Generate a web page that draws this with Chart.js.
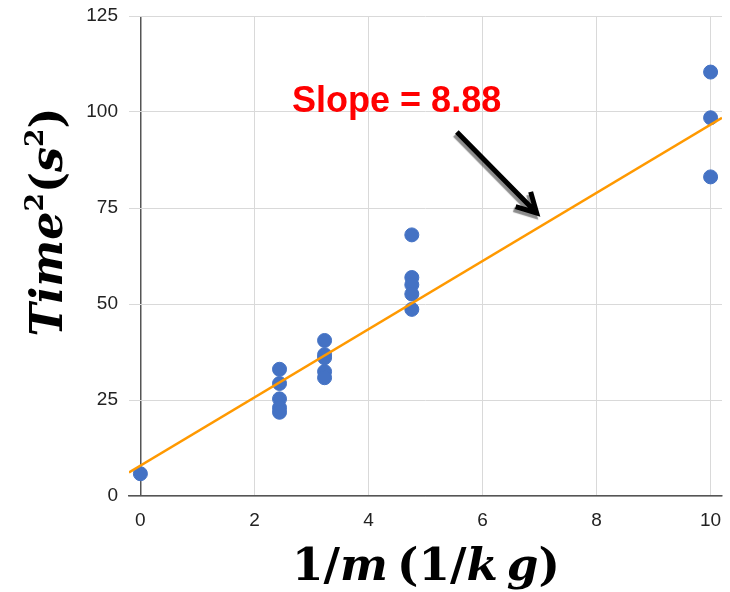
<!DOCTYPE html>
<html>
<head>
<meta charset="utf-8">
<script src="https://cdn.jsdelivr.net/npm/chart.js@4.4.1/dist/chart.umd.min.js"></script>
<style>
  html, body { margin: 0; padding: 0; background: #fff; }
  #wrap { position: relative; width: 730px; height: 592px; }
</style>
</head>
<body>
<div id="wrap"><canvas id="chart"></canvas></div>
<script>
// 1/m (1/kg) for each trial and the matching Time^2 (s^2)
const invMass = [0,
  2.44, 2.44, 2.44, 2.44, 2.44,
  3.23, 3.23, 3.23, 3.23, 3.23,
  4.76, 4.76, 4.76, 4.76, 4.76,
  10, 10, 10];
const timeSq = [5.8,
  33.0, 29.3, 25.3, 23.0, 21.8,
  40.5, 36.8, 36.0, 32.4, 30.8,
  68.0, 56.9, 55.0, 52.6, 48.6,
  110.4, 98.5, 83.1];

// fitted trendline
const SLOPE = 8.88;
const INTERCEPT = 7.9;
const trendX = [-0.2, 10.2];

const xTicks = [0, 2, 4, 6, 8, 10];
const yTicks = [0, 25, 50, 75, 100, 125];

const slopeLabel = 'Slope = ' + SLOPE.toFixed(2);

const points = invMass.map((x, i) => ({ x, y: timeSq[i] }));
const trend = trendX.map(x => ({ x, y: SLOPE * x + INTERCEPT }));

const SERIF = '"DejaVu Serif", "Liberation Serif", serif';

// draws a run of mixed-style text pieces, scaled so the whole run is `width` wide
function richText(ctx, parts, width, cx, baseY) {
  const base = 40;
  const measure = (size) => parts.reduce((w, p) => {
    ctx.font = p[1] + ' ' + (p[2] ? size * 0.6 : size) + 'px ' + SERIF;
    return w + ctx.measureText(p[0]).width;
  }, 0);
  const size = base * width / measure(base);
  let x = cx - width / 2;
  ctx.textAlign = 'left';
  ctx.textBaseline = 'alphabetic';
  parts.forEach(p => {
    const s = p[2] ? size * 0.6 : size;
    ctx.font = p[1] + ' ' + s + 'px ' + SERIF;
    ctx.fillText(p[0], x, p[2] ? baseY - size * 0.42 : baseY);
    x += ctx.measureText(p[0]).width;
  });
}

const extras = {
  id: 'extras',
  afterDatasetsDraw(chart) {
    const { ctx, scales: { x, y } } = chart;
    ctx.save();

    // slope note
    ctx.fillStyle = '#ff0000';
    ctx.font = 'bold 36px "Liberation Sans", Arial, sans-serif';
    ctx.textAlign = 'left';
    ctx.textBaseline = 'alphabetic';
    ctx.fillText(slopeLabel, x.getPixelForValue(2.66), y.getPixelForValue(100));

    // arrow pointing at the trendline
    const x0 = x.getPixelForValue(5.55), y0 = y.getPixelForValue(94.8);
    const x1 = x.getPixelForValue(6.95), y1 = y.getPixelForValue(73.7);
    const ang = Math.atan2(y1 - y0, x1 - x0);
    const head = 22, spread = 0.5;
    ctx.shadowColor = 'rgba(0,0,0,0.45)';
    ctx.shadowOffsetX = -2;
    ctx.shadowOffsetY = 3;
    ctx.shadowBlur = 1;
    ctx.strokeStyle = '#000';
    ctx.lineWidth = 5;
    ctx.lineJoin = 'miter';
    ctx.beginPath();
    ctx.moveTo(x0, y0);
    ctx.lineTo(x1, y1);
    ctx.moveTo(x1 - head * Math.cos(ang - spread), y1 - head * Math.sin(ang - spread));
    ctx.lineTo(x1, y1);
    ctx.lineTo(x1 - head * Math.cos(ang + spread), y1 - head * Math.sin(ang + spread));
    ctx.stroke();
    ctx.restore();

    // axis titles
    ctx.save();
    ctx.fillStyle = '#000';
    richText(ctx, [
      ['1/', 'bold'], ['m', 'italic bold'], ['\u2009', 'bold'],
      ['(1/', 'bold'], ['k', 'italic bold'], ['\u2009', 'bold'],
      ['g', 'italic bold'], [')', 'bold']
    ], 268, 426, 580);
    ctx.translate(62, 222);
    ctx.rotate(-Math.PI / 2);
    richText(ctx, [
      ['Time', 'italic bold'], ['2', 'bold', true], ['(', 'bold'],
      ['s', 'italic bold'], ['2', 'bold', true], [')', 'bold']
    ], 229, 0, 0);
    ctx.restore();
  }
};

const tickFont = { family: '"Liberation Sans", Arial, sans-serif', size: 19 };

new Chart(document.getElementById('chart'), {
  type: 'scatter',
  data: {
    datasets: [
      {
        type: 'line',
        data: trend,
        borderColor: '#ff9900',
        borderWidth: 2.5,
        pointRadius: 0,
        fill: false,
        order: 0
      },
      {
        data: points,
        backgroundColor: '#4472c4',
        borderColor: '#4472c4',
        pointRadius: 7,
        pointHoverRadius: 7,
        order: 1
      }
    ]
  },
  options: {
    responsive: true,
    maintainAspectRatio: false,
    animation: false,
    layout: { padding: { top: 16, right: 7, left: 0, bottom: 0 } },
    plugins: { legend: { display: false }, tooltip: { enabled: false } },
    scales: {
      x: {
        type: 'linear',
        min: trendX[0],
        max: trendX[1],
        afterBuildTicks: s => { s.ticks = xTicks.map(v => ({ value: v })); },
        afterFit: s => { s.height = 96; s.paddingLeft = 0; s.paddingRight = 0; },
        grid: {
          color: c => (c.tick && c.tick.value === 0 ? '#555' : '#d9d9d9'),
          lineWidth: c => (c.tick && c.tick.value === 0 ? 1.5 : 1),
          drawTicks: false
        },
        border: { color: '#555', width: 1.5 },
        ticks: { color: '#222', font: tickFont, padding: 13, maxRotation: 0 }
      },
      y: {
        min: 0,
        max: 125,
        afterBuildTicks: s => { s.ticks = yTicks.map(v => ({ value: v })); },
        afterFit: s => { s.width = 129; s.paddingTop = 0; s.paddingBottom = 0; },
        grid: { color: '#d9d9d9', lineWidth: 1, drawTicks: false },
        border: { display: false },
        ticks: { color: '#222', font: tickFont, padding: 11 }
      }
    }
  },
  plugins: [extras]
});
</script>
</body>
</html>
